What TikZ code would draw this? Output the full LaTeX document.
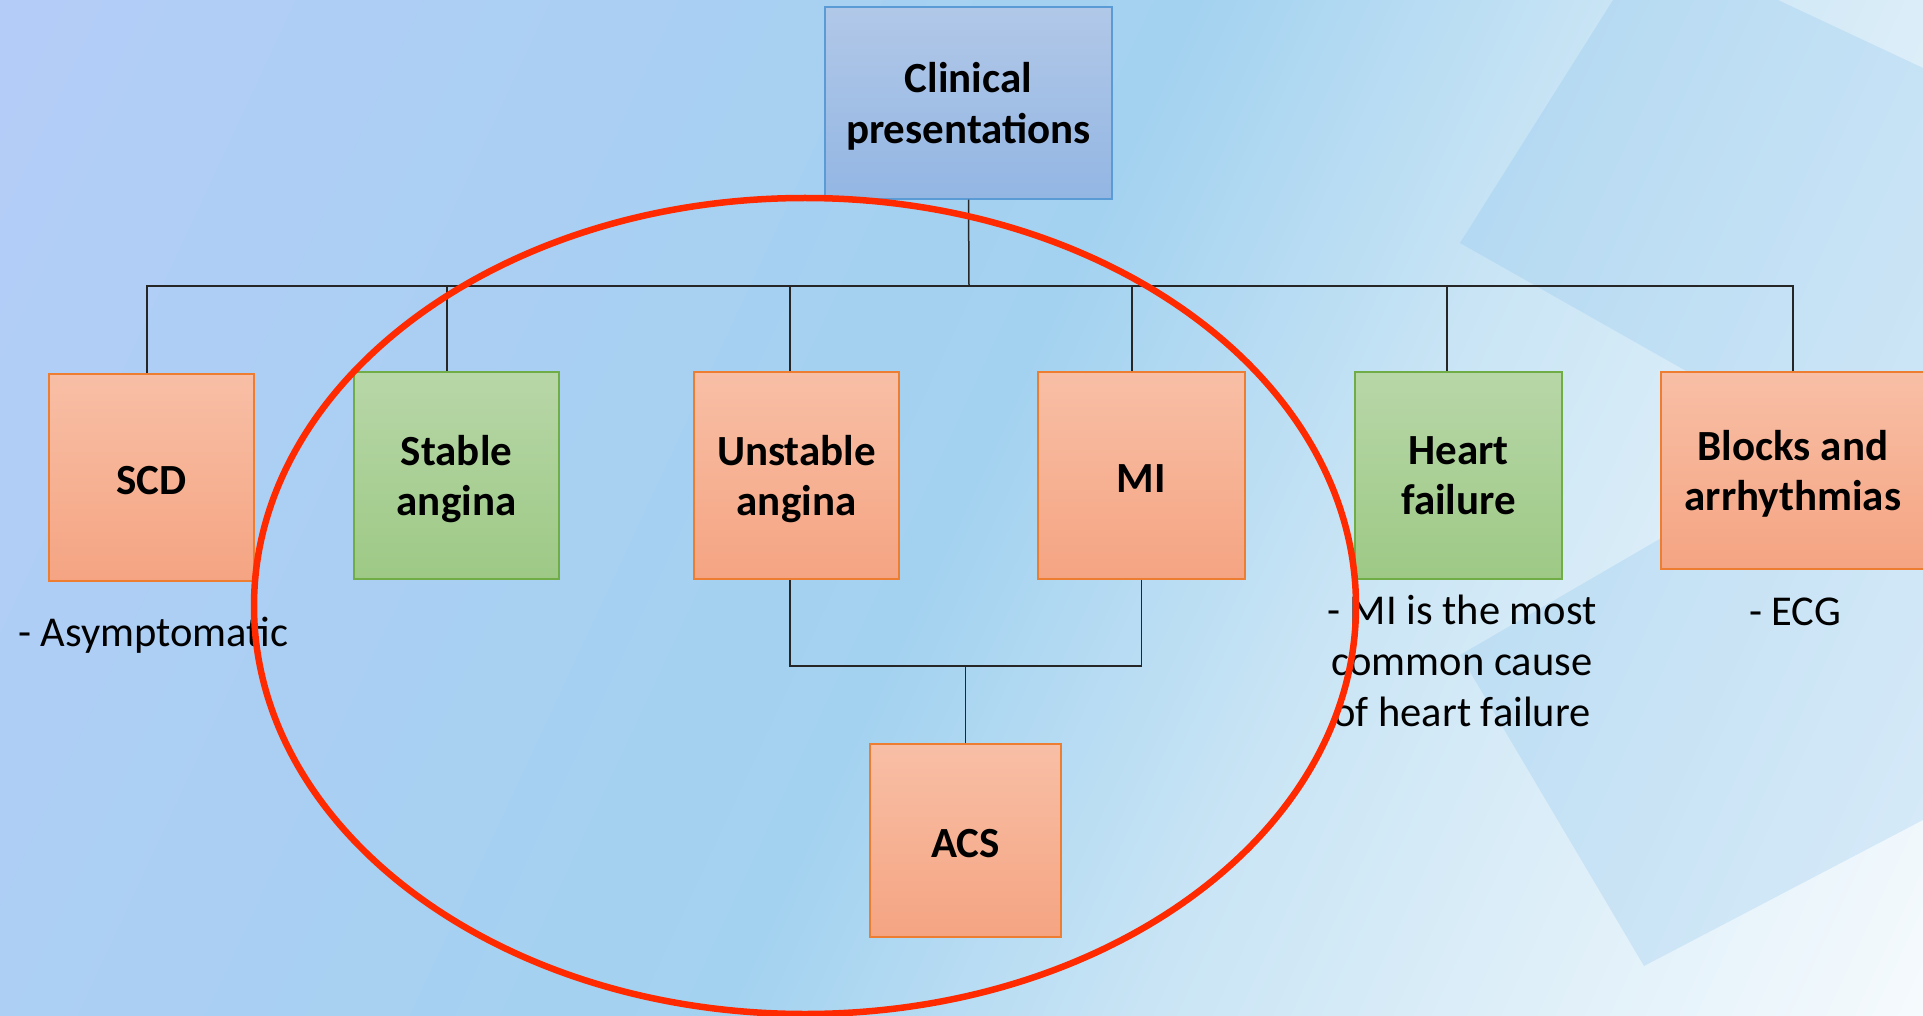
\documentclass[tikz,border=0pt]{standalone}
\usepackage{fontspec}
\setmainfont{Carlito}
\usetikzlibrary{positioning}

\definecolor{orTop}{RGB}{248,191,166}
\definecolor{orBot}{RGB}{245,164,130}
\definecolor{orLine}{RGB}{237,125,49}
\definecolor{grTop}{RGB}{184,215,168}
\definecolor{grBot}{RGB}{157,201,133}
\definecolor{grLine}{RGB}{112,173,71}
\definecolor{blTop}{RGB}{177,200,232}
\definecolor{blBot}{RGB}{147,182,227}
\definecolor{blLine}{RGB}{91,155,213}
\definecolor{ringRed}{RGB}{255,42,0}
\definecolor{bgA}{RGB}{180,205,248}
\definecolor{bgB}{RGB}{167,208,241}
\definecolor{bgC}{RGB}{163,210,240}
\definecolor{bgD}{RGB}{202,229,245}
\definecolor{bgE}{RGB}{245,250,253}
\definecolor{panelBlue}{RGB}{120,185,235}

\pgfdeclarehorizontalshading{slidebg}{100bp}{color(0bp)=(bgA); color(17bp)=(bgA);
  color(40bp)=(bgB); color(50bp)=(bgC); color(62bp)=(bgD); color(83bp)=(bgE); color(100bp)=(bgE)}

\begin{document}
\begin{tikzpicture}[x=1pt, y=-1pt,
    box/.style={draw, line width=1.5pt, inner sep=0pt, align=center, text depth=0pt,
        font=\bfseries\fontsize{43}{50.5}\selectfont},
    oneline/.style={text height=33pt},
    redbox/.style={box, draw=orLine, top color=orTop, bottom color=orBot},
    greenbox/.style={box, draw=grLine, top color=grTop, bottom color=grBot},
    link/.style={line width=1.5pt, black!85},
    note/.style={inner sep=0pt, align=center, font=\fontsize{42.5}{51}\selectfont},
    ring/.style={draw=ringRed, line width=6.5pt}]

    % Slide background
    \useasboundingbox (0,0) rectangle (1923,1016);
    \clip (0,0) rectangle (1923,1016);
    \shade[shading=slidebg, shading angle=-25] (0,0) rectangle (1923,1016);

    % Translucent panels on the right
    \fill[panelBlue, opacity=0.22] (1460,243) -- (1613,0) -- (1778,0) -- (1923,68) -- (1923,505) -- cycle;
    \fill[panelBlue, opacity=0.22] (1460,655) -- (1644,966) -- (1923,820) -- (1923,386) -- cycle;

    % Boxes
    \node[box, draw=blLine, top color=blTop, bottom color=blBot,
        minimum width=287, minimum height=192] (clin) at (968.5,103) {Clinical\\presentations};
    \node[redbox, oneline, minimum width=205, minimum height=207] (scd) at (151.5,477.5) {SCD};
    \node[greenbox, minimum width=205, minimum height=207] (stable) at (456.5,475.5) {Stable\\angina};
    \node[redbox, minimum width=205, minimum height=207] (unstable) at (796.5,475.5) {Unstable\\angina};
    \node[redbox, oneline, minimum width=207, minimum height=207] (mi) at (1141.5,475.5) {MI};
    \node[greenbox, minimum width=207, minimum height=207] (hf) at (1458.5,475.5) {Heart\\failure};
    \node[redbox, minimum width=264, minimum height=197] (blocks) at (1793,470.5) {Blocks and\\arrhythmias};
    \node[redbox, oneline, minimum width=191, minimum height=193] (acs) at (965.5,840.5) {ACS};

    % Notes under the boxes
    \node[note, anchor=base west] (asym) at (18,646) {- Asymptomatic};
    \node[note, anchor=base] (hfnote) at (1462,726) {- MI is the most\\common cause\\of heart failure};
    \node[note, anchor=base] (ecg) at (1795,625) {- ECG};

    % Tree connectors
    \coordinate (bus) at (969,286);
    \draw[link] (clin.south) -- (bus);
    \foreach \b/\dx in {scd/-4.5, stable/-9.5, unstable/-6.5, mi/-9.5, hf/-11.5, blocks/0}
        \draw[link] ([xshift=\dx]\b.north) |- (bus);

    % ACS branch
    \coordinate (join) at (965,666);
    \draw[link] ([xshift=-6.5]unstable.south) |- (join);
    \draw[link] (mi.south) |- (join);
    \draw[link] (acs.north) -- (acs.north |- join);

    % Ring round the ACS group
    \draw[ring] (805,606) ellipse [x radius=551, y radius=408];
\end{tikzpicture}
\end{document}
